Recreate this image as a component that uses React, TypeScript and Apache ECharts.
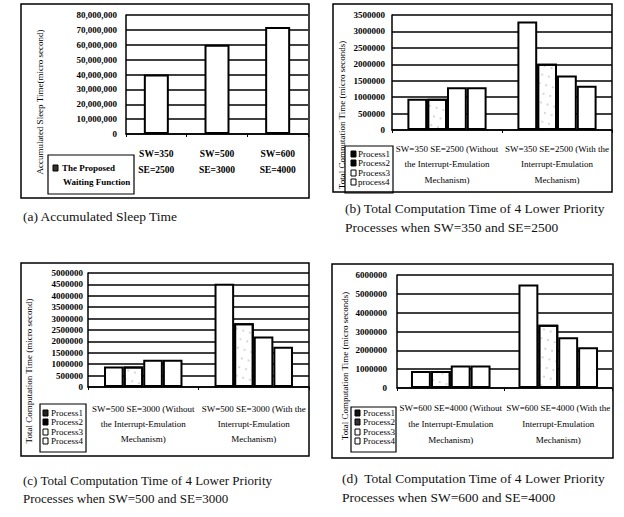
import React, { useEffect, useRef } from 'react';
import * as echarts from 'echarts';

const FONT = '"Liberation Serif", "Times New Roman", serif';

// ---- data ----
const catsA = ['SW=350\nSE=2500', 'SW=500\nSE=3000', 'SW=600\nSE=4000'];
const sleepA = [40000000, 60000000, 72000000];

const catsB = ['SW=350 SE=2500 (Without\nthe Interrupt-Emulation\nMechanism)', 'SW=350 SE=2500 (With the\nInterrupt-Emulation\nMechanism)'];
const namesB = ['Process1', 'Process2', 'Process3', 'process4'];
const b1 = [950000, 3300000];
const b2 = [950000, 2020000];
const b3 = [1300000, 1660000];
const b4 = [1300000, 1350000];

const catsC = ['SW=500 SE=3000 (Without\nthe Interrupt-Emulation\nMechanism)', 'SW=500 SE=3000 (With the\nInterrupt-Emulation\nMechanism)'];
const namesC = ['Process1', 'Process2', 'Process3', 'Process4'];
const c1 = [900000, 4530000];
const c2 = [900000, 2800000];
const c3 = [1200000, 2220000];
const c4 = [1200000, 1760000];

const catsD = ['SW=600 SE=4000 (Without\nthe Interrupt-Emulation\nMechanism)', 'SW=600 SE=4000 (With the\nInterrupt-Emulation\nMechanism)'];
const namesD = ['Process1', 'Process2', 'Process3', 'Process4'];
const d1 = [900000, 5500000];
const d2 = [900000, 3360000];
const d3 = [1200000, 2700000];
const d4 = [1200000, 2160000];

const yMaxA = 80000000, yStepA = 10000000;
const yMaxB = 3500000, yStepB = 500000;
const yMaxC = 5000000, yStepC = 500000;
const yMaxD = 6000000, yStepD = 1000000;

const legendFillsB = ['#000', '#000', '#fff', '#fff'];
const legendFillsC = ['#222', '#000', '#fff', '#fff'];
const legendFillsD = ['#111', '#333', '#fff', '#fff'];

const BLACK = '#000';

function xAxis(gridIndex: number, data: string[], margin: number, fontSize: number, lineHeight: number, weight = 'normal') {
  return {
    type: 'category', gridIndex, data,
    axisLine: { lineStyle: { color: BLACK, width: 1.5 } },
    axisTick: { show: true, length: 3, lineStyle: { color: BLACK } },
    axisLabel: { interval: 0, margin, fontSize, lineHeight, fontFamily: FONT, fontWeight: weight, color: BLACK },
  };
}

function yAxis(gridIndex: number, max: number, interval: number, margin: number, fmt: (v: number) => string) {
  return {
    type: 'value', gridIndex, min: 0, max, interval,
    axisLine: { show: true, lineStyle: { color: BLACK, width: 1.5 } },
    axisTick: { show: false },
    splitLine: { lineStyle: { color: BLACK, width: 1.5 } },
    axisLabel: { margin, fontSize: 9, fontFamily: FONT, fontWeight: 'bold', color: BLACK, formatter: fmt },
  };
}

const plain = (v: number) => String(v);
const commas = (v: number) => v.toLocaleString('en-US');

const dotted = {
  symbol: 'circle', symbolSize: 0.6, color: 'rgba(0,0,0,0.45)',
  dashArrayX: [2, 5], dashArrayY: [2, 7], rotation: 0.3,
};

function procSeries(idx: number, names: string[], vals: number[][], gap: string) {
  return vals.map((v, i) => ({
    type: 'bar', name: names[i], xAxisIndex: idx, yAxisIndex: idx, data: v,
    barGap: '0%', barCategoryGap: gap,
    itemStyle: i === 1
      ? { color: '#fff', borderColor: BLACK, borderWidth: 2, decal: dotted }
      : { color: '#fff', borderColor: BLACK, borderWidth: 2 },
  }));
}

function legendBox(x: number, y: number, w: number, h: number, rows: number[], mx: number, tx: number, names: string[], fills: string[], fs: number) {
  const els: any[] = [{ type: 'rect', shape: { x, y, width: w, height: h }, style: { fill: '#fff', stroke: BLACK, lineWidth: 1.2 } }];
  names.forEach((n, i) => {
    els.push({ type: 'rect', shape: { x: mx, y: rows[i] - 3, width: 5, height: 6 }, style: { fill: fills[i], stroke: BLACK, lineWidth: 1 } });
    els.push({ type: 'text', x: tx, y: rows[i], style: { text: n, fontSize: fs, fontFamily: FONT, fill: BLACK, verticalAlign: 'middle', align: 'left' } });
  });
  return els;
}

function vTitle(x: number, y: number, text: string) {
  return { type: 'text', x, y, rotation: Math.PI / 2, style: { text, fontSize: 9, fontFamily: FONT, fill: BLACK, align: 'center', verticalAlign: 'middle' } };
}

function caption(x: number, y: number, text: string, fs = 13.5) {
  return { type: 'text', x, y, style: { text, fontSize: fs, fontFamily: FONT, fill: '#111', align: 'left', verticalAlign: 'middle' } };
}

function frame(x1: number, y1: number, x2: number, y2: number) {
  return { type: 'rect', shape: { x: x1, y: y1, width: x2 - x1, height: y2 - y1 }, style: { fill: 'none', stroke: BLACK, lineWidth: 1.5 }, z: 10 };
}

export default function App() {
  const ref = useRef<HTMLDivElement>(null);
  useEffect(() => {
    document.body.style.margin = '0';
    const chart = echarts.init(ref.current!, null, { renderer: 'svg' });
    const option: any = {
      animation: false,
      backgroundColor: '#fff',
      grid: [
        { left: 126, top: 15, width: 182, height: 119 },
        { left: 392, top: 15, width: 220, height: 115 },
        { left: 88, top: 273, width: 221, height: 114 },
        { left: 397, top: 275, width: 215, height: 113 },
      ],
      xAxis: [
        xAxis(0, catsA, 12, 9.5, 16, 'bold'),
        xAxis(1, catsB, 11, 9, 15.5),
        xAxis(2, catsC, 14, 9, 15),
        xAxis(3, catsD, 12, 9, 16),
      ],
      yAxis: [
        yAxis(0, yMaxA, yStepA, 9, commas),
        yAxis(1, yMaxB, yStepB, 7, plain),
        yAxis(2, yMaxC, yStepC, 5, plain),
        yAxis(3, yMaxD, yStepD, 10, plain),
      ],
      series: [
        {
          type: 'bar', name: 'The Proposed Waiting Function', xAxisIndex: 0, yAxisIndex: 0, data: sleepA, barWidth: 25,
          itemStyle: { color: '#fff', borderColor: BLACK, borderWidth: 2 },
        },
        ...procSeries(1, namesB, [b1, b2, b3, b4], '28%'),
        ...procSeries(2, namesC, [c1, c2, c3, c4], '29%'),
        ...procSeries(3, namesD, [d1, d2, d3, d4], '26%'),
      ],
      graphic: [
        frame(21, 4, 309, 198),
        frame(333, 4, 612, 192),
        frame(21, 263, 309, 456),
        frame(332, 264, 613, 458),
        vTitle(40, 102, 'Accumulated Sleep Time(micro second)'),
        vTitle(342, 115, 'Total Computation Time (micro seconds)'),
        vTitle(29, 371, 'Total Computation Time (micro second)'),
        vTitle(345, 366, 'Total Computation Time (micro seconds)'),
        { type: 'rect', shape: { x: 48, y: 155, width: 86, height: 39 }, style: { fill: '#fff', stroke: BLACK, lineWidth: 1.2 } },
        { type: 'rect', shape: { x: 53, y: 165, width: 5, height: 6 }, style: { fill: '#333', stroke: BLACK, lineWidth: 1 } },
        { type: 'text', x: 62, y: 168, style: { text: 'The Proposed', fontSize: 9, fontFamily: FONT, fontWeight: 'bold', fill: BLACK, verticalAlign: 'middle' } },
        { type: 'text', x: 63, y: 182, style: { text: 'Waiting Function', fontSize: 9, fontFamily: FONT, fontWeight: 'bold', fill: BLACK, verticalAlign: 'middle' } },
        ...legendBox(345, 146, 48, 47, [154, 163, 173, 182], 351, 358, namesB, legendFillsB, 9),
        ...legendBox(40, 404, 46, 48, [413, 422, 432, 441], 43, 51, namesC, legendFillsC, 9),
        ...legendBox(351, 407, 45, 45, [413, 422, 432, 441], 355, 363, namesD, legendFillsD, 9),
        caption(23, 216, '(a) Accumulated Sleep Time'),
        caption(345, 208, '(b) Total Computation Time of 4 Lower Priority'),
        caption(345, 227, 'Processes when SW=350 and SE=2500'),
        caption(23, 480, '(c) Total Computation Time of 4 Lower Priority', 13),
        caption(23, 498, 'Processes when SW=500 and SE=3000', 13),
        caption(342, 478, '(d)  Total Computation Time of 4 Lower Priority'),
        caption(342, 497, 'Processes when SW=600 and SE=4000'),
      ],
    };
    chart.setOption(option);
    return () => chart.dispose();
  }, []);
  return <div ref={ref} style={{ width: 624, height: 517, background: '#fff' }} />;
}
